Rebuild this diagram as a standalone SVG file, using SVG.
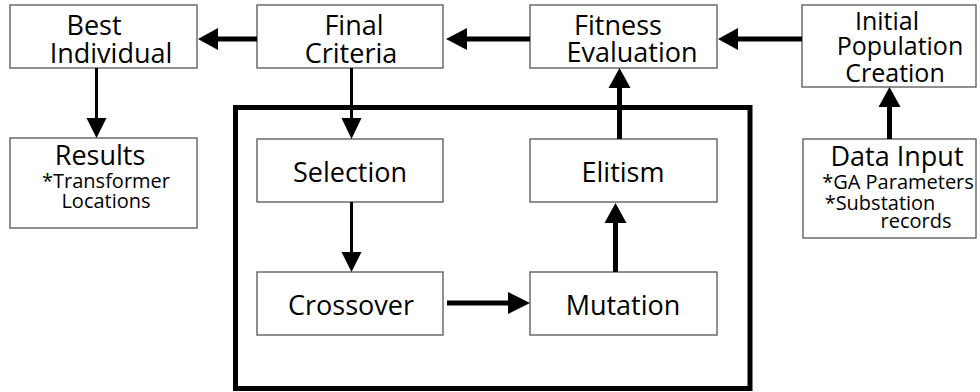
<svg xmlns="http://www.w3.org/2000/svg" width="980" height="392" viewBox="0 0 980 392">
<style>
.box{fill:#fff;stroke:#555;stroke-width:1.3}
.t{font-family:"Open Sans","Liberation Sans",sans-serif;font-size:27px;fill:#000;text-anchor:middle}
.m{font-family:"Open Sans","Liberation Sans",sans-serif;font-size:25px;fill:#000;text-anchor:middle}
.s{font-family:"Open Sans","Liberation Sans",sans-serif;font-size:20px;fill:#000;text-anchor:middle}
.thick{stroke:#000;stroke-width:5;fill:none}
.thin{stroke:#000;stroke-width:3;fill:none}
.head{fill:#000}
</style>
<rect width="980" height="392" fill="#fff"/>
<rect x="235.5" y="107.5" width="514.5" height="281" fill="none" stroke="#000" stroke-width="5"/>
<g id="best"><rect class="box" x="10" y="5" width="187" height="63"/><text class="t" x="94" y="35">Best</text><text class="t" x="111" y="63">Individual</text></g>
<g id="final"><rect class="box" x="257" y="5" width="186" height="63"/><text class="t" x="354" y="35">Final</text><text class="t" x="351" y="63">Criteria</text></g>
<g id="fitness"><rect class="box" x="530" y="5" width="187" height="63"/><text class="t" x="618" y="35" font-size="26">Fitness</text><text class="t" x="632" y="62" font-size="26">Evaluation</text></g>
<g id="initial"><rect class="box" x="802" y="5" width="174" height="82"/><text class="m" x="887" y="30">Initial</text><text class="m" x="900" y="55">Population</text><text class="m" x="895" y="82">Creation</text></g>
<g id="results"><rect class="box" x="10" y="138" width="187" height="90"/><text class="t" x="100" y="165">Results</text><text class="s" x="106" y="188">*Transformer</text><text class="s" x="106" y="208">Locations</text></g>
<g id="selection"><rect class="box" x="257" y="139" width="186" height="63"/><text class="t" x="350" y="182">Selection</text></g>
<g id="elitism"><rect class="box" x="530" y="139" width="187" height="63"/><text class="t" x="623" y="182">Elitism</text></g>
<g id="datainput"><rect class="box" x="803" y="139" width="173" height="99"/><text class="t" x="897" y="166">Data Input</text><text class="s" x="898" y="189">*GA Parameters</text><text class="s" x="880" y="210">*Substation</text><text class="s" x="916" y="228">records</text></g>
<g id="crossover"><rect class="box" x="257" y="272" width="186" height="63"/><text class="t" x="351" y="315">Crossover</text></g>
<g id="mutation"><rect class="box" x="530" y="272" width="187" height="63"/><text class="t" x="623" y="315">Mutation</text></g>
<g id="connectors">
<line class="thick" x1="257" y1="39" x2="216" y2="39"/><polygon class="head" points="198,39 218,28 218,50"/>
<line class="thick" x1="530" y1="39" x2="465" y2="39"/><polygon class="head" points="446,39 467,28 467,50"/>
<line class="thick" x1="802" y1="39" x2="735" y2="39"/><polygon class="head" points="718,39 738,28 738,50"/>
<line class="thin" x1="96.5" y1="68" x2="96.5" y2="120"/><polygon class="head" points="96.5,138 86.5,118 106.5,118"/>
<line class="thin" x1="351.5" y1="68" x2="351.5" y2="120"/><polygon class="head" points="351.5,139 341.5,118 361.5,118"/>
<line class="thin" x1="351.5" y1="202" x2="351.5" y2="254"/><polygon class="head" points="351.5,272 341.5,252 361.5,252"/>
<line class="thick" x1="447" y1="303" x2="510" y2="303"/><polygon class="head" points="530,303 508,292 508,314"/>
<line class="thick" x1="615.5" y1="272" x2="615.5" y2="221"/><polygon class="head" points="615.5,203 604.5,223 626.5,223"/>
<line class="thick" x1="619.5" y1="139" x2="619.5" y2="86"/><polygon class="head" points="619.5,68 608.5,88 630.5,88"/>
<line class="thick" x1="889.5" y1="139" x2="889.5" y2="105"/><polygon class="head" points="889.5,87 878.5,107 900.5,107"/>
</g>
</svg>
